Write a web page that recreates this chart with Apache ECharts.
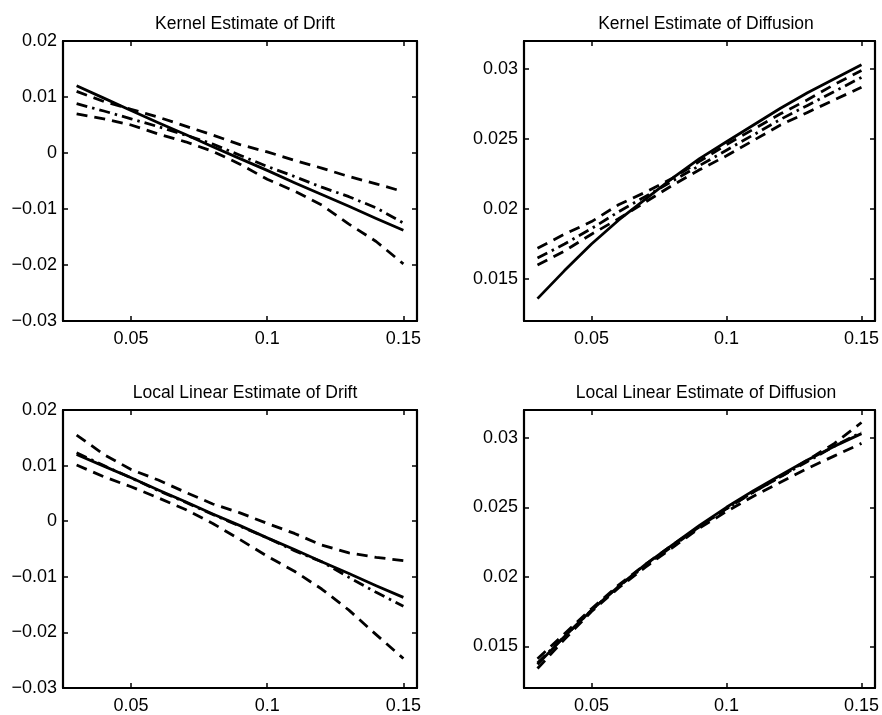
<!DOCTYPE html>
<html><head><meta charset="utf-8">
<script src="https://cdn.jsdelivr.net/npm/echarts@6/dist/echarts.min.js"></script>
<style>html,body{margin:0;padding:0;background:#fff}#c{width:882px;height:715px}</style>
</head><body><div id="c"></div>
<script>
// ---- data ----
const xs = [0.03,0.04,0.05,0.06,0.07,0.08,0.09,0.10,0.11,0.12,0.13,0.14,0.15];
const titles = ["Kernel Estimate of Drift","Kernel Estimate of Diffusion","Local Linear Estimate of Drift","Local Linear Estimate of Diffusion"];
const xTicks = [0.05,0.1,0.15];
const driftTicks = [-0.03,-0.02,-0.01,0,0.01,0.02];
const diffTicks = [0.015,0.02,0.025,0.03];

// Kernel estimate of drift
const kDriftSolid   = [0.0120,0.0098,0.0076,0.0054,0.0033,0.0011,-0.0010,-0.0031,-0.0053,-0.0074,-0.0095,-0.0117,-0.0138];
const kDriftUpper   = [0.0110,0.0092,0.0078,0.0064,0.0048,0.0032,0.0015,0.0002,-0.0013,-0.0027,-0.0042,-0.0055,-0.0069];
const kDriftDashDot = [0.0088,0.0075,0.0061,0.0047,0.0032,0.0016,-0.0004,-0.0024,-0.0042,-0.0061,-0.0078,-0.0098,-0.0125];
const kDriftLower   = [0.0070,0.0061,0.0050,0.0034,0.0020,0.0003,-0.0020,-0.0047,-0.0068,-0.0093,-0.0127,-0.0158,-0.0198];

// Kernel estimate of diffusion
const kDiffSolid   = [0.0136,0.0156,0.0175,0.0192,0.0207,0.0222,0.0236,0.0248,0.0260,0.0272,0.0283,0.0293,0.0303];
const kDiffUpper   = [0.0172,0.0182,0.0191,0.0203,0.0212,0.0222,0.0234,0.0246,0.0257,0.0268,0.0278,0.0289,0.0299];
const kDiffDashDot = [0.0165,0.0175,0.0186,0.0198,0.0209,0.0220,0.0231,0.0242,0.0253,0.0264,0.0274,0.0284,0.0294];
const kDiffLower   = [0.0160,0.0170,0.0182,0.0193,0.0205,0.0217,0.0228,0.0238,0.0249,0.0260,0.0269,0.0278,0.0287];

// Local linear estimate of drift
const lDriftSolid   = [0.0120,0.0099,0.0078,0.0056,0.0035,0.0013,-0.0008,-0.0030,-0.0051,-0.0073,-0.0094,-0.0116,-0.0137];
const lDriftUpper   = [0.0155,0.0120,0.0093,0.0074,0.0052,0.0031,0.0015,-0.0004,-0.0022,-0.0043,-0.0057,-0.0065,-0.0071];
const lDriftDashDot = [0.0123,0.0100,0.0078,0.0055,0.0034,0.0012,-0.0009,-0.0030,-0.0053,-0.0073,-0.0101,-0.0128,-0.0153];
const lDriftLower   = [0.0101,0.0080,0.0062,0.0042,0.0021,-0.0004,-0.0033,-0.0063,-0.0090,-0.0122,-0.0160,-0.0204,-0.0247];

// Local linear estimate of diffusion
const lDiffSolid   = [0.0137,0.0157,0.0176,0.0193,0.0209,0.0223,0.0237,0.0250,0.0262,0.0273,0.0284,0.0294,0.0303];
const lDiffUpper   = [0.0141,0.0159,0.0177,0.0194,0.0209,0.0223,0.0236,0.0249,0.0261,0.0272,0.0284,0.0296,0.0311];
const lDiffDashDot = [0.0138,0.0157,0.0176,0.0193,0.0208,0.0222,0.0236,0.0249,0.0261,0.0272,0.0283,0.0294,0.0304];
const lDiffLower   = [0.0134,0.0155,0.0175,0.0192,0.0207,0.0221,0.0235,0.0247,0.0258,0.0268,0.0278,0.0287,0.0296];

// ---- chart ----
const FONT = "Liberation Sans";
const grids = [
  {left:63, top:41, width:354, height:280},
  {left:524, top:41, width:354, height:280},
  {left:63, top:410, width:354, height:279},
  {left:524, top:410, width:354, height:279}
];
const titlePos = [[240,10],[701,10],[240,379],[701,379]];
const fmt = v => String(+(+v).toFixed(4)).replace('-', '\u2212');

const xAxes = [], yAxes = [], series = [];
const panels = [
  {lines:[kDriftSolid,kDriftUpper,kDriftDashDot,kDriftLower], yMin:-0.03, yMax:0.02, ticks:driftTicks},
  {lines:[kDiffSolid,kDiffUpper,kDiffDashDot,kDiffLower], yMin:0.012, yMax:0.032, ticks:diffTicks},
  {lines:[lDriftSolid,lDriftUpper,lDriftDashDot,lDriftLower], yMin:-0.03, yMax:0.02, ticks:driftTicks},
  {lines:[lDiffSolid,lDiffUpper,lDiffDashDot,lDiffLower], yMin:0.012, yMax:0.032, ticks:diffTicks}
];
const axLine = {show:true, onZero:false, lineStyle:{color:'#000', width:2.2}};
const tick = vals => ({show:true, inside:true, length:5, customValues:vals, lineStyle:{color:'#000', width:1.5}});
const styles = [
  {type:'solid'},
  {type:[11,7]},
  {type:[11,5,2.5,5]},
  {type:[11,7]}
];
panels.forEach((p, gi) => {
  xAxes.push({type:'value', gridIndex:gi, position:'bottom', min:0.025, max:0.155,
    axisLine:axLine, axisTick:tick(xTicks), splitLine:{show:false},
    axisLabel:{show:true, customValues:xTicks, formatter:fmt, color:'#000', fontFamily:FONT, fontSize:18, margin:9}});
  xAxes.push({type:'value', gridIndex:gi, position:'top', min:0.025, max:0.155,
    axisLine:axLine, axisTick:tick(xTicks), splitLine:{show:false}, axisLabel:{show:false}});
  yAxes.push({type:'value', gridIndex:gi, position:'left', min:p.yMin, max:p.yMax,
    axisLine:axLine, axisTick:tick(p.ticks), splitLine:{show:false},
    axisLabel:{show:true, customValues:p.ticks, formatter:fmt, color:'#000', fontFamily:FONT, fontSize:18, margin:6}});
  yAxes.push({type:'value', gridIndex:gi, position:'right', min:p.yMin, max:p.yMax,
    axisLine:axLine, axisTick:tick(p.ticks), splitLine:{show:false}, axisLabel:{show:false}});
  p.lines.forEach((arr, k) => {
    series.push({type:'line', xAxisIndex:gi*2, yAxisIndex:gi*2, showSymbol:false, symbol:'none',
      smooth:false, silent:true,
      lineStyle:Object.assign({color:'#000', width:2.8, cap:'butt', join:'round'}, styles[k]),
      data: xs.map((x,i)=>[x, arr[i]])});
  });
});

const chart = echarts.init(document.getElementById('c'), null, {renderer:'canvas'});
chart.setOption({
  animation:false,
  backgroundColor:'#fff',
  title: titles.map((t,i)=>({text:t, left:titlePos[i][0], top:titlePos[i][1], textAlign:'center',
    textStyle:{fontFamily:FONT, fontSize:17.5, fontWeight:'normal', color:'#000'}})),
  grid: grids,
  xAxis: xAxes,
  yAxis: yAxes,
  series: series
});
</script>
</body></html>
